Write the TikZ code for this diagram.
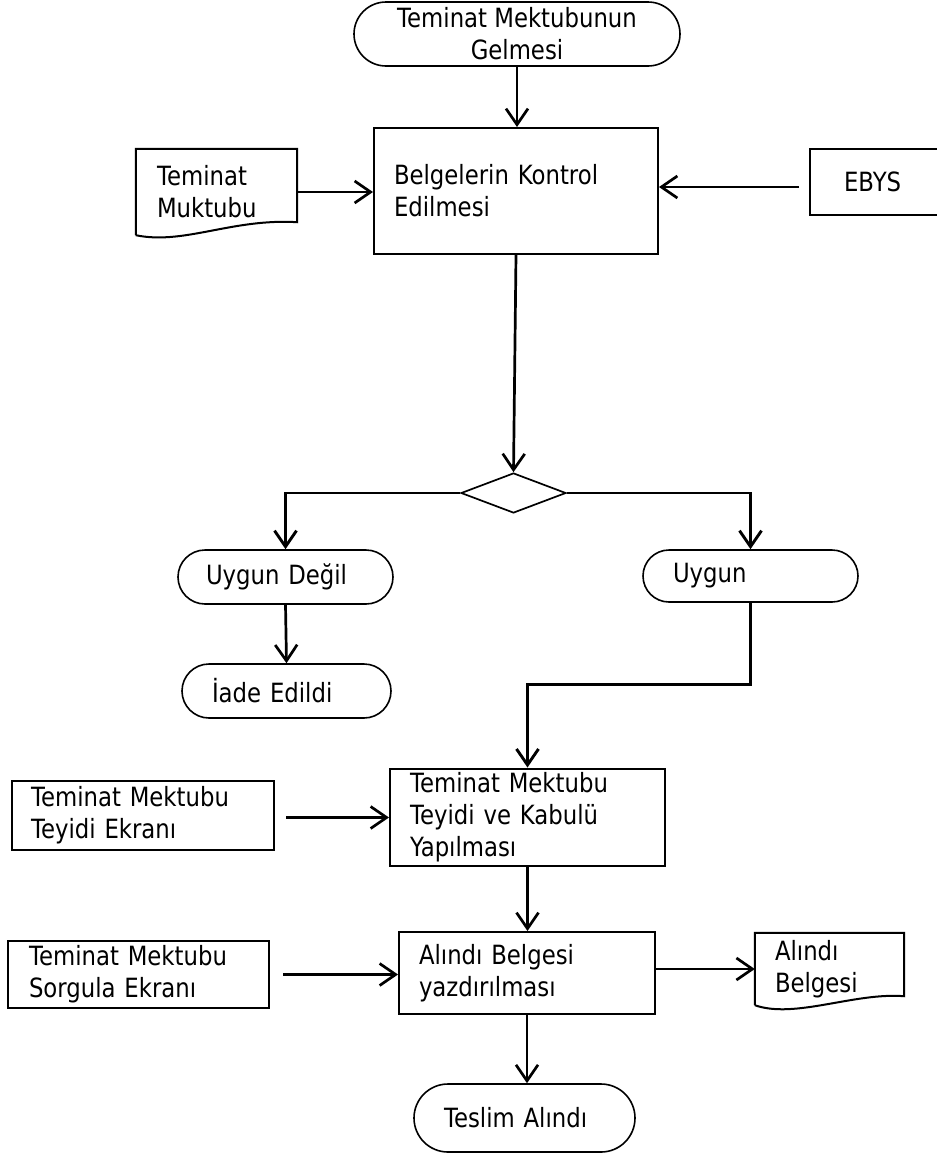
\documentclass[tikz,border=0pt]{standalone}
\usepackage{fontspec}
\setmainfont{DejaVu Sans}[FakeStretch=0.86]
\usetikzlibrary{arrows.meta,shapes.geometric}
\newcommand\myfs{\fontsize{26.5}{32}\selectfont}
\tikzset{
  base/.style={inner xsep=0pt, inner ysep=2pt, font=\myfs},
  stad/.style={base, draw, line width=1.6pt},
  pbox/.style={base, draw, line width=2pt, align=left},
  ibox/.style={base, draw, line width=2.5pt, align=left},
  docn/.style={base, align=left},
  arr/.style={line width=2.7pt, -{Straight Barb[length=16pt,width=22pt]}},
  ln/.style={line width=2pt},
  thk/.style={line width=2.9pt}
}
\begin{document}
\begin{tikzpicture}[x=1pt,y=-1pt]
\fill[white] (0,0) rectangle (937,1157);
\useasboundingbox (0,0) rectangle (937,1157);
\clip (0,0) rectangle (937,1157);

% nodes
\node[stad, rounded corners=32pt, minimum width=326pt, minimum height=64pt, align=center] (start) at (517,34) {Teminat Mektubunun\\Gelmesi};
\node[pbox, minimum width=284pt, minimum height=126pt, text width=244pt] (check) at (516,191) {Belgelerin Kontrol\\Edilmesi};
\node[docn, minimum width=161pt, minimum height=86pt, text width=119pt] (tm) at (216.5,192) {Teminat\\Muktubu};
\node[pbox, line width=1.8pt, minimum width=150pt, minimum height=66pt, text width=82pt] (ebys) at (885,182) {EBYS};
\node[draw, diamond, line width=1.7pt, inner sep=0pt, aspect=2.625, minimum width=105pt, minimum height=40pt] (dia) at (513.5,493) {};
\node[stad, rounded corners=27pt, minimum width=215pt, minimum height=54pt, text width=159pt, align=left] (ud) at (285.5,577) {Uygun Değil};
\node[stad, rounded corners=26pt, minimum width=215pt, minimum height=52pt, text width=155pt, align=left] (uy) at (750.5,576) {Uygun};
\node[stad, rounded corners=27pt, minimum width=209pt, minimum height=54pt, text width=149pt, align=left] (iade) at (286.5,691) {İade Edildi};
\node[pbox, minimum width=275pt, minimum height=97pt, text width=235pt, inner ysep=1pt] (teyit) at (527.5,817) {Teminat Mektubu\\Teyidi ve Kabulü\\Yapılması};
\node[ibox, minimum width=262pt, minimum height=69pt, text width=224pt] (tekr) at (143,815.5) {Teminat Mektubu\\Teyidi Ekranı};
\node[pbox, minimum width=256pt, minimum height=82pt, text width=216pt] (alindi) at (527,973) {Alındı Belgesi\\yazdırılması};
\node[ibox, minimum width=261pt, minimum height=67pt, text width=219pt] (sorg) at (138.5,974.5) {Teminat Mektubu\\Sorgula Ekranı};
\node[docn, minimum width=149pt, minimum height=72pt, text width=109pt] (ab) at (829.5,969) {Alındı\\Belgesi};
\node[stad, rounded corners=34pt, minimum width=221pt, minimum height=68pt, text width=161pt, align=left] (teslim) at (524.5,1118) {Teslim Alındı};

% document outlines
\draw[ln] (tm.south west) -- (tm.north west) -- (tm.north east) -- ([yshift=13pt]tm.south east)
  .. controls ([xshift=-65pt,yshift=17pt]tm.south east) and ([xshift=48pt,yshift=-10pt]tm.south west) .. (tm.south west);
\draw[ln] (ab.south west) -- (ab.north west) -- (ab.north east) -- ([yshift=9pt]ab.south east)
  .. controls ([xshift=-50pt,yshift=13pt]ab.south east) and ([xshift=40pt,yshift=-14pt]ab.south west) .. (ab.south west);

% connectors
\draw[arr] (start.south) -- (start.south |- check.north);
\draw[arr] (tm.east) -- (tm.east -| check.west);
\draw[arr] ([xshift=-10pt,yshift=-5pt]ebys.west) -- ([yshift=-5pt]ebys.west -| check.east);
\draw[arr] (check.south) -- (dia.north);
\draw[arr,thk] (dia.west) -| (ud.north);
\draw[arr,thk] (dia.east) -| (uy.north);
\draw[arr] (ud.south) -- (iade.north);
\draw[arr,thk] (uy.south) -- ++(0,82) -| (teyit.north);
\draw[arr] ([xshift=11pt,yshift=-2pt]tekr.east) -- ([yshift=-2pt]tekr.east -| teyit.west);
\draw[arr] (teyit.south) -- (teyit.south |- alindi.north);
\draw[arr] ([xshift=13pt]sorg.east) -- (sorg.east -| alindi.west);
\draw[arr] (alindi.east |- ab.west) -- (ab.west);
\draw[arr] (alindi.south) -- (alindi.south |- teslim.north);
\end{tikzpicture}
\end{document}
